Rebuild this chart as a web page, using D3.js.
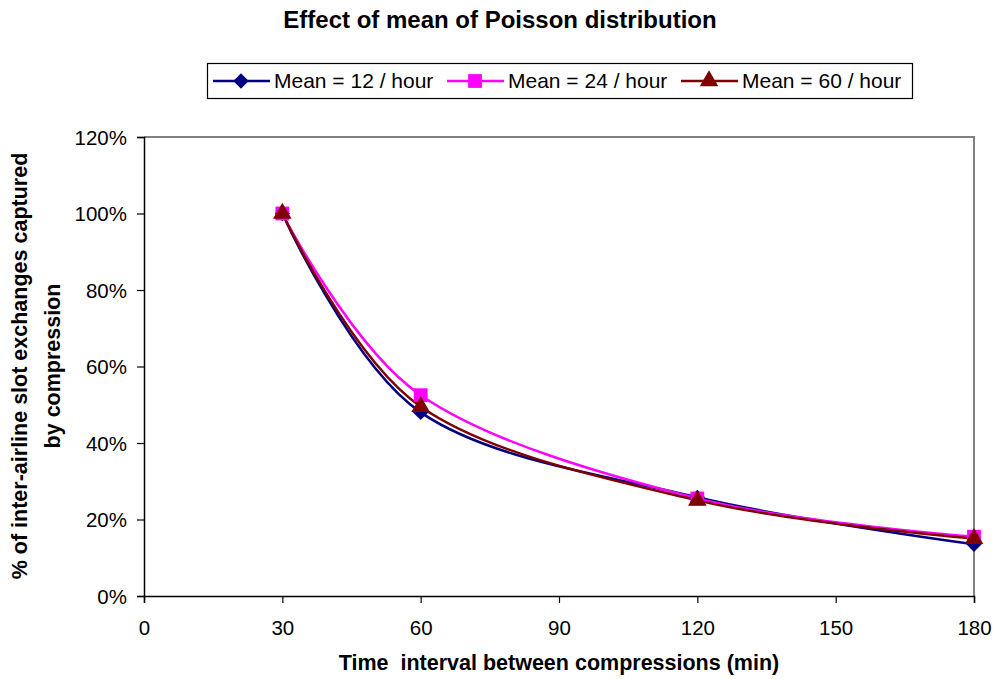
<!DOCTYPE html>
<html>
<head>
<meta charset="utf-8">
<script src="https://cdn.jsdelivr.net/npm/d3@7"></script>
<style>
  body { margin: 0; background: #fff; }
  text { font-family: "Liberation Sans", Arial, sans-serif; }
</style>
</head>
<body>
<script>
// data
const intervals = [30, 60, 120, 180];
const mean12 = [100, 48.0, 25.8, 13.5];
const mean24 = [100, 52.5, 25.5, 15.5];
const mean60 = [100, 49.5, 25.0, 15.0];
const seriesNames = ["Mean = 12 / hour", "Mean = 24 / hour", "Mean = 60 / hour"];
const xTicks = [0, 30, 60, 90, 120, 150, 180];
const yTicks = [0, 20, 40, 60, 80, 100, 120];

const width = 997, height = 679;
const margin = {top: 137, right: 23, bottom: 83, left: 144};
const innerW = width - margin.left - margin.right;
const innerH = height - margin.top - margin.bottom;

const svg = d3.select("body").append("svg")
	.attr("width", width)
	.attr("height", height);

const x = d3.scaleLinear().domain([0, 180]).range([0, innerW]);
const y = d3.scaleLinear().domain([0, 120]).range([innerH, 0]);

const g = svg.append("g")
	.attr("transform", "translate(" + margin.left + "," + margin.top + ")");

// gray frame on top and right
g.append("path")
	.attr("d", "M0,0H" + innerW + "V" + innerH)
	.attr("fill", "none")
	.attr("stroke", "#808080")
	.attr("stroke-width", 2);

// axes
const xAxis = g.append("g")
	.attr("transform", "translate(0," + innerH + ")")
	.call(d3.axisBottom(x).tickValues(xTicks).tickSize(7).tickPadding(17));
const yAxis = g.append("g")
	.call(d3.axisLeft(y).tickValues(yTicks).tickSize(7).tickPadding(10)
		.tickFormat(function(d) { return d + "%"; }));

[xAxis, yAxis].forEach(function(a) {
	a.select(".domain").attr("stroke", "#000").attr("stroke-width", 1.5);
	a.selectAll(".tick line").attr("stroke", "#000").attr("stroke-width", 1.2);
	a.selectAll(".tick text")
		.attr("fill", "#000")
		.style("font-size", "20.5px")
		.style("font-family", "'Liberation Sans', Arial, sans-serif");
});
yAxis.selectAll(".tick text").attr("dy", "0.35em");

const series = [
	{name: seriesNames[0], values: mean12, color: "#000080", symbol: d3.symbolDiamond2, size: 150},
	{name: seriesNames[1], values: mean24, color: "#FF00FF", symbol: d3.symbolSquare, size: 190},
	{name: seriesNames[2], values: mean60, color: "#800000", symbol: d3.symbolTriangle, size: 150}
];

const line = d3.line()
	.x(function(d, i) { return x(intervals[i]); })
	.y(function(d) { return y(d); })
	.curve(d3.curveCatmullRom.alpha(0));

series.forEach(function(s) {
	g.append("path")
		.datum(s.values)
		.attr("d", line)
		.attr("fill", "none")
		.attr("stroke", s.color)
		.attr("stroke-width", 2.5);
});

series.forEach(function(s) {
	g.selectAll(null)
		.data(s.values)
		.enter()
		.append("path")
		.attr("transform", function(d, i) {
			return "translate(" + x(intervals[i]) + "," + y(d) + ")";
		})
		.attr("d", d3.symbol().type(s.symbol).size(s.size))
		.attr("fill", s.color);
});

// title
svg.append("text")
	.attr("x", 500)
	.attr("y", 28)
	.attr("text-anchor", "middle")
	.style("font-size", "24px")
	.style("font-weight", "bold")
	.text("Effect of mean of Poisson distribution");

// axis titles
svg.append("text")
	.attr("x", 559)
	.attr("y", 670)
	.attr("text-anchor", "middle")
	.style("font-size", "21.5px")
	.style("font-weight", "bold")
	.style("white-space", "pre")
	.text("Time  interval between compressions (min)");

const yTitle = svg.append("text")
	.attr("transform", "translate(27,366) rotate(-90)")
	.attr("text-anchor", "middle")
	.style("font-size", "21.5px")
	.style("font-weight", "bold");
yTitle.append("tspan").attr("x", 0).attr("dy", 0).text("% of inter-airline slot exchanges captured");
yTitle.append("tspan").attr("x", 0).attr("dy", 33).text("by compression");

// legend
const legend = svg.append("g");
legend.append("rect")
	.attr("x", 207.5).attr("y", 63.5)
	.attr("width", 705).attr("height", 35)
	.attr("fill", "#fff")
	.attr("stroke", "#000")
	.attr("stroke-width", 1.2);
const legendX = [213, 447, 681];
series.forEach(function(s, i) {
	const lg = legend.append("g").attr("transform", "translate(" + legendX[i] + ",81)");
	lg.append("line")
		.attr("x1", 0).attr("x2", 57)
		.attr("stroke", s.color)
		.attr("stroke-width", 2.5);
	lg.append("path")
		.attr("transform", "translate(28,0)")
		.attr("d", d3.symbol().type(s.symbol).size(s.size))
		.attr("fill", s.color);
	lg.append("text")
		.attr("x", 61)
		.attr("dy", "0.35em")
		.style("font-size", "21px")
		.text(s.name);
});
</script>
</body>
</html>
